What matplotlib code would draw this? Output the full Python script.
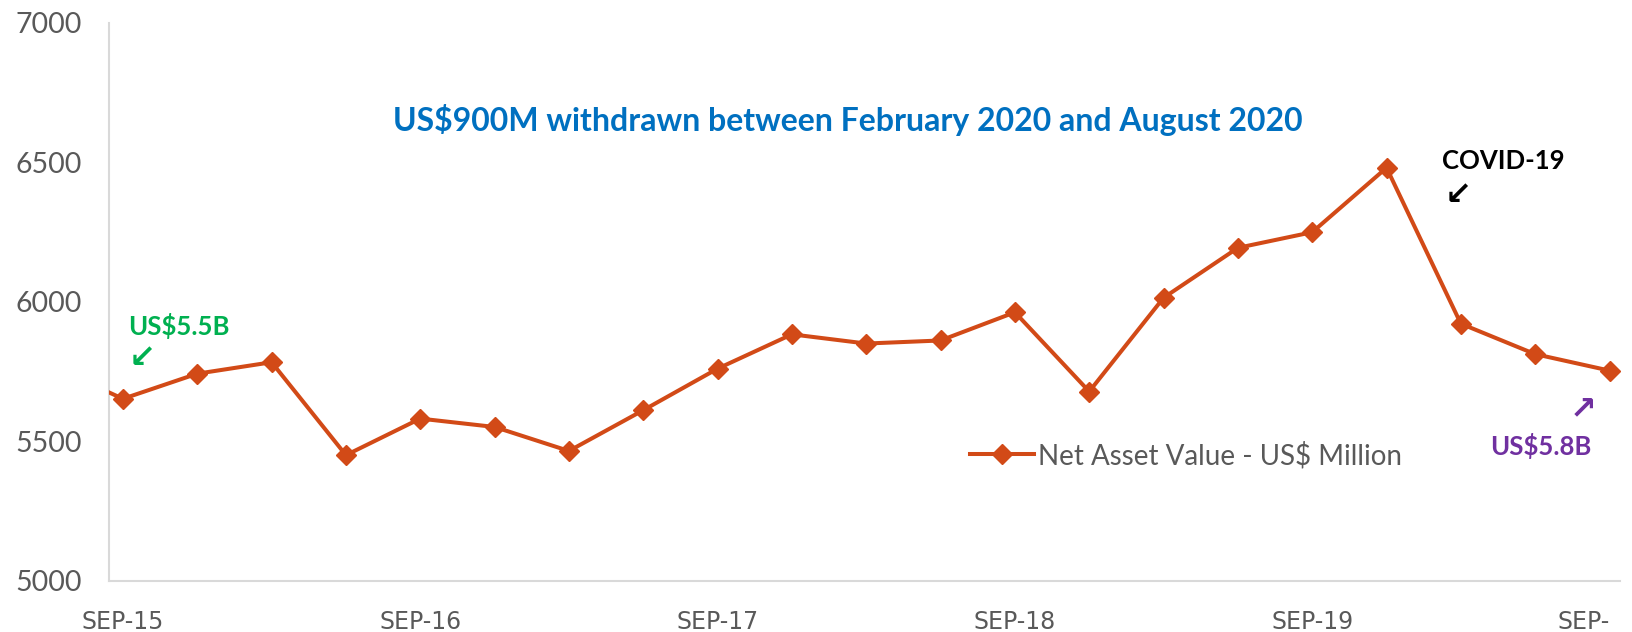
import matplotlib
matplotlib.use("Agg")
import matplotlib.pyplot as plt
from matplotlib.transforms import ScaledTranslation

# Data (quarterly net asset value, US$ million)
quarters = ["JUN-15", "SEP-15", "DEC-15", "MAR-16", "JUN-16", "SEP-16", "DEC-16", "MAR-17",
            "JUN-17", "SEP-17", "DEC-17", "MAR-18", "JUN-18", "SEP-18", "DEC-18", "MAR-19",
            "JUN-19", "SEP-19", "DEC-19", "MAR-20", "JUN-20", "SEP-20"]
nav = [5775, 5653, 5743, 5784, 5451, 5582, 5552, 5466, 5612, 5761, 5884, 5851,
       5862, 5963, 5679, 6015, 6194, 6250, 6481, 5922, 5813, 5754]
tick_quarters = ["SEP-15", "SEP-16", "SEP-17", "SEP-18", "SEP-19", "SEP-20"]
tick_labels = ["SEP-15", "SEP-16", "SEP-17", "SEP-18", "SEP-19", "SEP-"]
y_ticks = [5000, 5500, 6000, 6500, 7000]
series_label = "Net Asset Value - US$ Million"
title_text = "US$900M withdrawn between February 2020 and August 2020"

plt.rcParams['font.family'] = ['Lato', 'DejaVu Sans']

fig = plt.figure(figsize=(16.33, 6.32), dpi=100)
ax = fig.add_axes([0.0670, 0.0807, 0.9250, 0.8830])

x = list(range(len(quarters)))
line_color = "#D24A17"
ax.plot(x, nav, color=line_color, lw=2.9, marker="D", markersize=10,
        markerfacecolor=line_color, markeredgecolor=line_color, label=series_label,
        clip_on=True, zorder=3)

ax.set_xlim(0.818, 21.14)
ax.set_ylim(5000, 7000)
ax.set_yticks(y_ticks)
ax.set_yticklabels([str(v) for v in y_ticks], fontsize=20.5, color="#595959")
ax.set_xticks([quarters.index(q) for q in tick_quarters])
ax.set_xticklabels(tick_labels, color="#595959")
xlabs = ax.get_xticklabels()
for lab in xlabs:
    lab.set_fontfamily("DejaVu Sans")
    lab.set_fontsize(17)
for lab in xlabs[:-1]:
    lab.set_horizontalalignment("center")
    lab.set_transform(lab.get_transform() + ScaledTranslation(-5 / 100, 0, fig.dpi_scale_trans))
xlabs[-1].set_horizontalalignment("right")
xlabs[-1].set_transform(xlabs[-1].get_transform() + ScaledTranslation(12 / 100, 0, fig.dpi_scale_trans))

ax.tick_params(axis="both", length=0)
ax.tick_params(axis="y", pad=20)
ax.tick_params(axis="x", pad=21)
for s in ["top", "right"]:
    ax.spines[s].set_visible(False)
for s in ["left", "bottom"]:
    ax.spines[s].set_color("#D9D9D9")
    ax.spines[s].set_linewidth(1.5)

# Title annotation
ax.text(0.489, 0.826, title_text, transform=ax.transAxes, ha="center", va="center",
        fontsize=23, fontweight="bold", color="#0070C0")

# Annotations
ax.text(1.07, 5915, "US$5.5B", ha="left", va="center", fontsize=18.5, fontweight="bold", color="#00B050")
ax.text(1.08, 5798, "\u2199", ha="left", va="center", fontsize=23, fontweight="bold",
        color="#00B050", family="DejaVu Sans")
ax.text(18.75, 6505, "COVID-19", ha="left", va="center", fontsize=18.5, fontweight="bold", color="black")
ax.text(18.78, 6380, "\u2199", ha="left", va="center", fontsize=23, fontweight="bold",
        color="black", family="DejaVu Sans")
ax.text(19.39, 5485, "US$5.8B", ha="left", va="center", fontsize=18.5, fontweight="bold", color="#7030A0")
ax.text(20.46, 5612, "\u2197", ha="left", va="center", fontsize=23, fontweight="bold",
        color="#7030A0", family="DejaVu Sans")

leg = ax.legend(loc="center left", bbox_to_anchor=(0.553, 0.225), frameon=False,
                fontsize=20, handlelength=2.3, handletextpad=0.15, labelcolor="#595959")

fig.savefig("out.png", dpi=100)
